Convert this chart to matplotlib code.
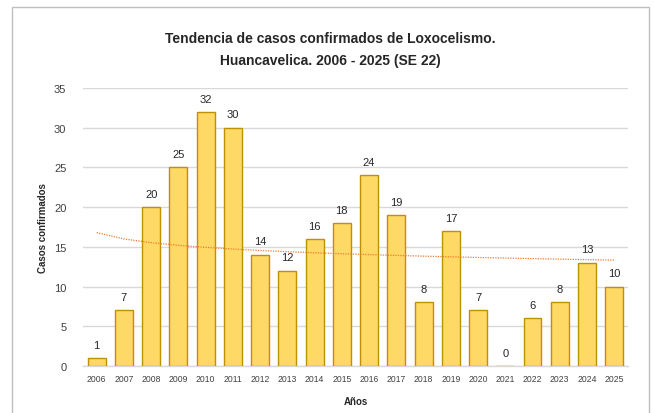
import numpy as np
import matplotlib
matplotlib.use("Agg")
import matplotlib.pyplot as plt
from matplotlib.patches import Rectangle

years = ["2006", "2007", "2008", "2009", "2010", "2011", "2012", "2013", "2014", "2015",
         "2016", "2017", "2018", "2019", "2020", "2021", "2022", "2023", "2024", "2025"]
cases = [1, 7, 20, 25, 32, 30, 14, 12, 16, 18, 24, 19, 8, 17, 7, 0, 6, 8, 13, 10]
y_ticks = [0, 5, 10, 15, 20, 25, 30, 35]

title = "Tendencia de casos confirmados de Loxocelismo.\nHuancavelica. 2006 - 2025 (SE 22)"
x_label = "Años"
y_label = "Casos confirmados"

plt.rcParams["font.family"] = ["Liberation Sans", "DejaVu Sans"]

fig = plt.figure(figsize=(6.54, 4.14), dpi=100)
ax = fig.add_axes([0.127, 0.1135, 0.833, 0.6715])

# outer chart border
fig.patches.append(Rectangle((12 / 654, -0.05), (649 - 12) / 654, 1.05 - 8 / 414,
                             transform=fig.transFigure, fill=False,
                             edgecolor="#BFBFBF", linewidth=1.0))

x = np.arange(len(years))
ax.bar(x, cases, width=0.66, color="#FFD966", edgecolor="#BF9000", linewidth=1.0, zorder=3)

for xi, v in zip(x, cases):
    ax.annotate(str(v), (xi, v), xytext=(0, 6), textcoords="offset points",
                ha="center", va="bottom", fontsize=8, color="#262626")

# logarithmic trend line
xs = x + 1
b, a = np.polyfit(np.log(xs), cases, 1)
ax.plot(x, a + b * np.log(xs), linestyle=(0, (1, 1)), color="#ED7D31", linewidth=0.9, zorder=4)

ax.set_xlim(-0.5, len(years) - 0.5)
ax.set_ylim(0, 35)
ax.set_yticks(y_ticks)
ax.set_xticks(x)
ax.set_xticklabels(years, fontsize=6.2, color="#404040")
ax.tick_params(axis="y", labelsize=8, colors="#404040", length=0, pad=12)
ax.tick_params(axis="x", length=0, pad=6)
ax.grid(axis="y", color="#D9D9D9", linewidth=1.0, zorder=0)
for s in ["top", "right", "left"]:
    ax.spines[s].set_visible(False)
ax.spines["bottom"].set_color("#D9D9D9")
ax.spines["bottom"].set_linewidth(1.0)

ax.set_xlabel(x_label, fontsize=7, fontweight="bold", color="#262626", labelpad=9)
ax.set_ylabel(y_label, fontsize=7, fontweight="bold", color="#262626", labelpad=4)

fig.text(0.505, 0.88, title, ha="center", va="center", fontsize=10, fontweight="bold",
         color="#262626", linespacing=1.75)

fig.savefig("out.png", dpi=100)
